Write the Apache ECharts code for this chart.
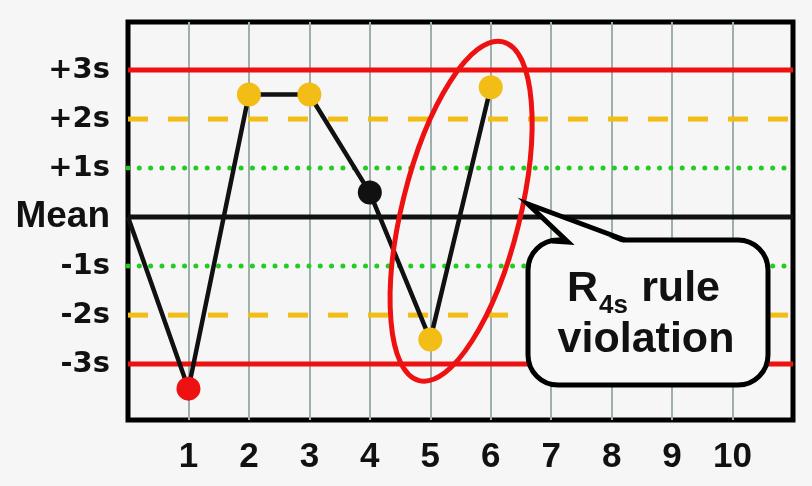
<!DOCTYPE html>
<html>
<head>
<meta charset="utf-8">
<script src="https://cdn.jsdelivr.net/npm/echarts@6/dist/echarts.min.js"></script>
<style>
  html, body { margin: 0; padding: 0; background: #f6f6f6; }
  #chart { width: 812px; height: 486px; }
</style>
</head>
<body>
<div id="chart"></div>
<script>
// run number and control result (in SD units)
var runs = [0, 1, 2, 3, 4, 5, 6];
var sdValues = [0, -3.5, 2.5, 2.5, 0.5, -2.5, 2.65];
var pointKinds = ['none', 'reject', 'warn', 'warn', 'ok', 'warn', 'warn'];

var xTickLabels = ['', '1', '2', '3', '4', '5', '6', '7', '8', '9', '10', ''];
var yTickValues = [-3, -2, -1, 0, 1, 2, 3];
var yTickLabels = ['-3s', '-2s', '-1s', 'Mean', '+1s', '+2s', '+3s'];
var limitLevels = [3, 2, 1, 0, -1, -2, -3];

var RED = '#ee1111', GOLD = '#f2bd14', GREEN = '#22cc22', BLACK = '#111111';
var kindColor = { reject: RED, warn: GOLD, ok: BLACK };

function limitStyle(level) {
  var a = Math.abs(level);
  if (a === 3) return { color: RED, width: 5, type: 'solid' };
  if (a === 2) return { color: GOLD, width: 5, type: [20, 20] };
  if (a === 1) return { color: GREEN, width: 5, type: [0.01, 11.3], cap: 'round' };
  return { color: BLACK, width: 5, type: 'solid' };
}

var chart = echarts.init(document.getElementById('chart'));

var limitSeries = limitLevels.map(function (v) {
  return {
    type: 'line',
    data: [[0, v], [11, v]],
    symbol: 'none',
    silent: true,
    z: 2,
    lineStyle: limitStyle(v)
  };
});

var runData = runs.map(function (r, i) {
  var k = pointKinds[i];
  return {
    value: [r, sdValues[i]],
    symbolSize: k === 'none' ? 0 : 24,
    itemStyle: { color: kindColor[k] || BLACK }
  };
});

var option = {
  backgroundColor: '#f6f6f6',
  animation: false,
  grid: {
    left: 128, right: 19, top: 22, bottom: 66,
    show: true,
    borderColor: '#000',
    borderWidth: 5,
    backgroundColor: '#f6f6f6'
  },
  xAxis: {
    type: 'value',
    min: 0, max: 11, interval: 1,
    axisLine: { show: false },
    axisTick: { show: false },
    splitLine: {
      show: true, showMinLine: false, showMaxLine: false,
      lineStyle: { color: '#9db0ab', width: 2 }
    },
    axisLabel: {
      margin: 20,
      color: BLACK,
      fontFamily: 'Liberation Sans',
      fontWeight: 'bold',
      fontSize: 35,
      formatter: function (v) { return xTickLabels[v] || ''; }
    }
  },
  yAxis: {
    type: 'value',
    min: -4.14, max: 3.98,
    axisLine: { show: false },
    axisTick: { show: false },
    splitLine: { show: false },
    axisLabel: {
      customValues: yTickValues,
      margin: 18,
      formatter: function (v) {
        var i = yTickValues.indexOf(Math.round(v));
        return v === 0 ? '{m|' + yTickLabels[i] + '}' : '{s|' + yTickLabels[i] + '}';
      },
      rich: {
        m: { fontFamily: 'Liberation Sans', fontWeight: 'bold', fontSize: 37, color: BLACK },
        s: { fontFamily: 'DejaVu Sans', fontWeight: 'bold', fontSize: 29, color: BLACK }
      }
    }
  },
  series: limitSeries.concat([{
    type: 'line',
    data: runData,
    symbol: 'circle',
    z: 5,
    lineStyle: { color: BLACK, width: 4.5 },
    itemStyle: { borderWidth: 0 }
  }])
};
chart.setOption(option);

// annotation: ellipse around runs 5-6 and the callout box
var ellC = chart.convertToPixel({ gridIndex: 0 }, [5.51, 0.12]);
var textFont = 'bold 43px "Liberation Sans"';
chart.setOption({
  graphic: [
    {
      type: 'ellipse', z: 100,
      x: ellC[0], y: ellC[1],
      rotation: -13.9 * Math.PI / 180,
      shape: { cx: 0, cy: 0, rx: 59, ry: 174.5 },
      style: { fill: null, stroke: RED, lineWidth: 5 }
    },
    {
      type: 'rect', z: 100,
      shape: { x: 528, y: 240, width: 240, height: 145, r: 30 },
      style: { fill: '#f8f8f8', stroke: '#000', lineWidth: 5 }
    },
    {
      type: 'polygon', z: 101,
      shape: { points: [[553, 245], [568, 243], [528, 204], [628, 245]] },
      style: { fill: '#f8f8f8' }
    },
    {
      type: 'polyline', z: 102,
      shape: { points: [[552, 241], [568, 242], [528, 204], [625, 240]] },
      style: { stroke: '#000', lineWidth: 5, fill: null, lineJoin: 'miter' }
    },
    { type: 'text', z: 103, x: 567, y: 289,
      style: { text: 'R', font: textFont, fill: BLACK, align: 'left', verticalAlign: 'middle' } },
    { type: 'text', z: 103, x: 599, y: 306,
      style: { text: '4s', font: 'bold 26px "Liberation Sans"', fill: BLACK, align: 'left', verticalAlign: 'middle' } },
    { type: 'text', z: 103, x: 720, y: 289,
      style: { text: 'rule', font: textFont, fill: BLACK, align: 'right', verticalAlign: 'middle' } },
    { type: 'text', z: 103, x: 646, y: 340,
      style: { text: 'violation', font: textFont, fill: BLACK, align: 'center', verticalAlign: 'middle' } }
  ]
});
</script>
</body>
</html>
